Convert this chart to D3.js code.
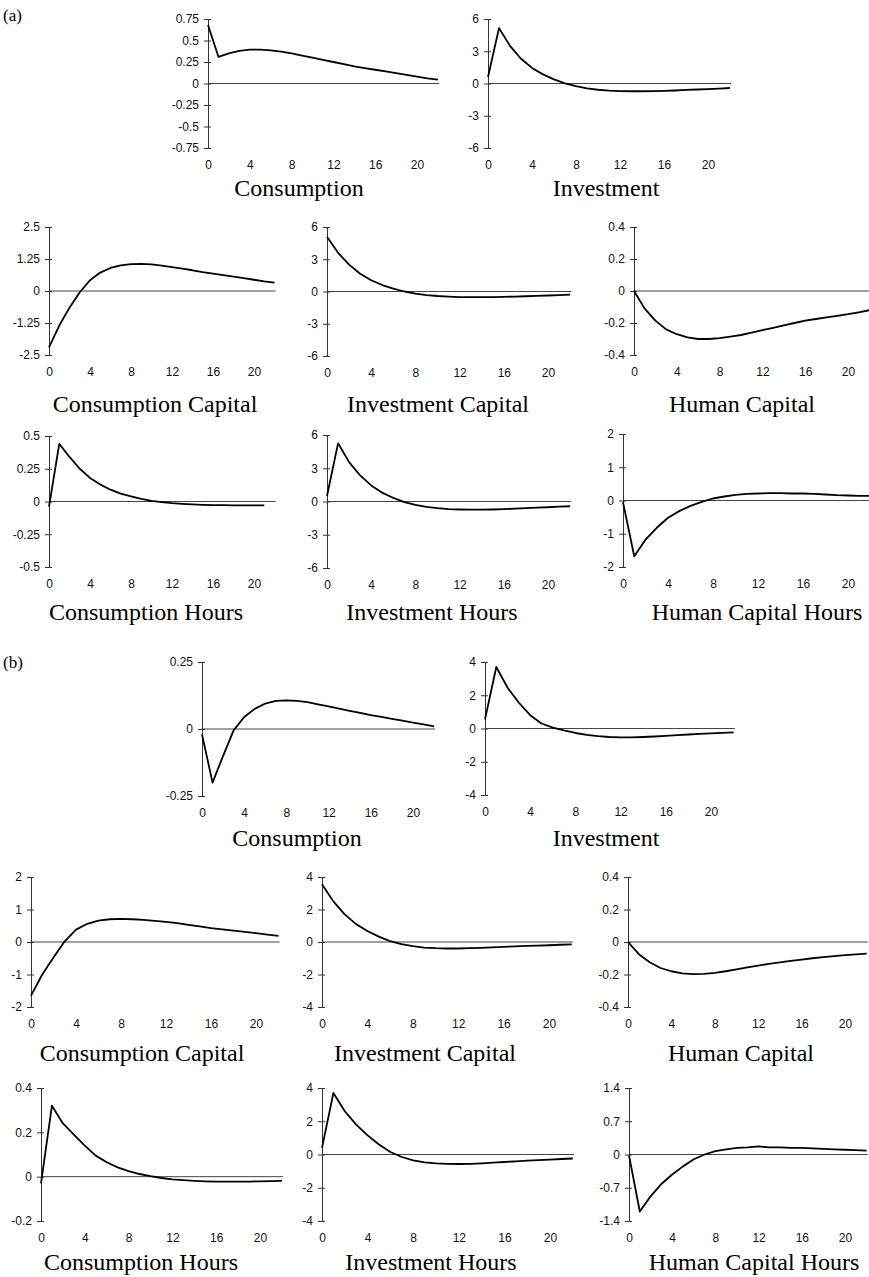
<!DOCTYPE html>
<html>
<head>
<meta charset="utf-8">
<script src="https://cdn.jsdelivr.net/npm/d3@7"></script>
<style>
  body { margin: 0; background: #fff; }
  svg { display: block; }
</style>
</head>
<body>
<div class="figure"></div>
<script>
// periods after the shock
const periods = [0,1,2,3,4,5,6,7,8,9,10,11,12,13,14,15,16,17,18,19,20,21,22];
const xTicks = [0,4,8,12,16,20];

// ---- panel (a) ----
const aConsumption = [0.68,0.31,0.35,0.38,0.395,0.395,0.385,0.37,0.35,0.325,0.30,0.275,0.25,0.225,0.20,0.18,0.16,0.14,0.12,0.10,0.08,0.06,0.045];
const aInvestment = [0.6,5.15,3.5,2.3,1.45,0.85,0.38,0.02,-0.25,-0.45,-0.58,-0.66,-0.7,-0.72,-0.72,-0.7,-0.68,-0.65,-0.6,-0.56,-0.52,-0.47,-0.42];
const aConsCapital = [-2.2,-1.35,-0.65,-0.05,0.42,0.72,0.9,1.0,1.05,1.06,1.04,0.99,0.93,0.87,0.81,0.74,0.68,0.62,0.56,0.5,0.44,0.38,0.33];
const aInvCapital = [5.1,3.6,2.5,1.65,1.05,0.6,0.27,0.0,-0.2,-0.33,-0.42,-0.48,-0.52,-0.53,-0.53,-0.52,-0.5,-0.47,-0.44,-0.41,-0.37,-0.34,-0.3];
const aHumCapital = [0,-0.11,-0.185,-0.24,-0.27,-0.29,-0.3,-0.3,-0.295,-0.285,-0.275,-0.26,-0.245,-0.23,-0.215,-0.2,-0.185,-0.175,-0.165,-0.155,-0.145,-0.133,-0.12];
const aConsHours = [-0.04,0.44,0.34,0.25,0.18,0.13,0.09,0.06,0.04,0.02,0.005,-0.005,-0.013,-0.018,-0.022,-0.025,-0.027,-0.028,-0.029,-0.03,-0.03,-0.03];
const aInvHours = [0.5,5.25,3.55,2.35,1.45,0.8,0.32,-0.05,-0.3,-0.48,-0.6,-0.68,-0.72,-0.74,-0.74,-0.72,-0.69,-0.65,-0.6,-0.56,-0.52,-0.47,-0.43];
const aHumHours = [-0.05,-1.68,-1.18,-0.82,-0.52,-0.32,-0.16,-0.04,0.06,0.12,0.17,0.2,0.21,0.22,0.22,0.21,0.21,0.2,0.18,0.16,0.15,0.14,0.14];

// ---- panel (b) ----
const bConsumption = [-0.02,-0.2,-0.1,-0.005,0.045,0.075,0.095,0.105,0.107,0.105,0.1,0.092,0.084,0.076,0.068,0.06,0.052,0.045,0.038,0.031,0.024,0.017,0.01];
const bInvestment = [0.55,3.7,2.45,1.55,0.8,0.3,0.05,-0.12,-0.27,-0.38,-0.46,-0.51,-0.53,-0.53,-0.51,-0.48,-0.44,-0.4,-0.36,-0.32,-0.29,-0.26,-0.23];
const bConsCapital = [-1.65,-1.0,-0.48,0.02,0.38,0.56,0.66,0.7,0.71,0.7,0.68,0.65,0.62,0.58,0.53,0.48,0.43,0.39,0.35,0.31,0.27,0.23,0.19];
const bInvCapital = [3.55,2.5,1.7,1.1,0.68,0.33,0.05,-0.13,-0.26,-0.34,-0.38,-0.4,-0.4,-0.38,-0.36,-0.33,-0.3,-0.27,-0.24,-0.22,-0.2,-0.17,-0.15];
const bHumCapital = [0,-0.075,-0.125,-0.16,-0.18,-0.193,-0.198,-0.196,-0.19,-0.18,-0.168,-0.156,-0.145,-0.135,-0.125,-0.116,-0.108,-0.1,-0.093,-0.087,-0.081,-0.076,-0.071];
const bConsHours = [-0.03,0.32,0.24,0.19,0.14,0.095,0.065,0.042,0.025,0.012,0.002,-0.006,-0.012,-0.016,-0.019,-0.021,-0.022,-0.022,-0.022,-0.022,-0.021,-0.02,-0.019];
const bInvHours = [0.4,3.7,2.6,1.8,1.15,0.6,0.15,-0.15,-0.35,-0.47,-0.53,-0.56,-0.57,-0.56,-0.53,-0.49,-0.45,-0.41,-0.37,-0.34,-0.31,-0.27,-0.24];
const bHumHours = [-0.02,-1.2,-0.88,-0.62,-0.42,-0.25,-0.1,0.0,0.07,0.11,0.14,0.15,0.17,0.15,0.15,0.14,0.14,0.13,0.12,0.11,0.1,0.09,0.08];

// y tick labels
const aConsTicks = [0.75,0.5,0.25,0,-0.25,-0.5,-0.75];
const aInvTicks = [6,3,0,-3,-6];
const aConsCapTicks = [2.5,1.25,0,-1.25,-2.5];
const aHumCapTicks = [0.4,0.2,0,-0.2,-0.4];
const aConsHoursTicks = [0.5,0.25,0,-0.25,-0.5];
const aHumHoursTicks = [2,1,0,-1,-2];
const bConsTicks = [0.25,0,-0.25];
const bInvTicks = [4,2,0,-2,-4];
const bConsCapTicks = [2,1,0,-1,-2];
const bHumCapTicks = [0.4,0.2,0,-0.2,-0.4];
const bConsHoursTicks = [0.4,0.2,0,-0.2];
const bHumHoursTicks = [1.4,0.7,0,-0.7,-1.4];

const width = 869;
const height = 1277;

const svg = d3.select('.figure')
  .append('svg')
  .attr('width', width)
  .attr('height', height);

// layout of each small chart (x0 = pixel of period 0, x20 = pixel of period 20)
const panels = [
  {title:'Consumption', values:aConsumption, ticks:aConsTicks, x0:208, x20:417, top:19, bottom:148, titleX:299, titleY:196},
  {title:'Investment', values:aInvestment, ticks:aInvTicks, x0:488, x20:708, top:19, bottom:148, titleX:606, titleY:196},
  {title:'Consumption Capital', values:aConsCapital, ticks:aConsCapTicks, x0:49, x20:254, top:227, bottom:355, titleX:155, titleY:412},
  {title:'Investment Capital', values:aInvCapital, ticks:aInvTicks, x0:327, x20:548, top:227, bottom:356, titleX:438, titleY:412},
  {title:'Human Capital', values:aHumCapital, ticks:aHumCapTicks, x0:634, x20:848, top:227, bottom:355, titleX:742, titleY:412},
  {title:'Consumption Hours', values:aConsHours, ticks:aConsHoursTicks, x0:49, x20:254, top:436, bottom:567, titleX:146, titleY:620},
  {title:'Investment Hours', values:aInvHours, ticks:aInvTicks, x0:327, x20:548, top:435, bottom:568, titleX:432, titleY:620},
  {title:'Human Capital Hours', values:aHumHours, ticks:aHumHoursTicks, x0:623, x20:848, top:434, bottom:567, titleX:757, titleY:620},

  {title:'Consumption', values:bConsumption, ticks:bConsTicks, x0:202, x20:413, top:662, bottom:796, titleX:297, titleY:846},
  {title:'Investment', values:bInvestment, ticks:bInvTicks, x0:485, x20:711, top:662, bottom:795, titleX:606, titleY:846},
  {title:'Consumption Capital', values:bConsCapital, ticks:bConsCapTicks, x0:31, x20:256, top:877, bottom:1007, titleX:142, titleY:1061},
  {title:'Investment Capital', values:bInvCapital, ticks:bInvTicks, x0:322, x20:549, top:877, bottom:1007, titleX:425, titleY:1061},
  {title:'Human Capital', values:bHumCapital, ticks:bHumCapTicks, x0:628, x20:845, top:877, bottom:1007, titleX:741, titleY:1061},
  {title:'Consumption Hours', values:bConsHours, ticks:bConsHoursTicks, x0:41, x20:260, top:1088, bottom:1221, titleX:141, titleY:1270},
  {title:'Investment Hours', values:bInvHours, ticks:bInvTicks, x0:322, x20:550, top:1088, bottom:1221, titleX:431, titleY:1270},
  {title:'Human Capital Hours', values:bHumHours, ticks:bHumHoursTicks, x0:629, x20:845, top:1088, bottom:1221, titleX:754, titleY:1270}
];

panels.forEach(p => {
  const x = d3.scaleLinear().domain([0, 20]).range([p.x0, p.x20]);
  const y = d3.scaleLinear().domain(d3.extent(p.ticks)).range([p.bottom, p.top]);
  const g = svg.append('g');

  // zero line
  g.append('line')
    .attr('x1', x(0)).attr('x2', x(22.1))
    .attr('y1', y(0)).attr('y2', y(0))
    .attr('stroke', '#444')
    .attr('stroke-width', 1);

  // y axis with ticks crossing the axis line
  const ay = g.append('g')
    .attr('transform', `translate(${x(0)},0)`)
    .call(d3.axisLeft(y).tickValues(p.ticks).tickSize(4).tickSizeOuter(0).tickPadding(5).tickFormat(d => String(d)));
  ay.attr('font-family', 'Liberation Sans, Arial, sans-serif').attr('font-size', 12);
  ay.select('.domain').attr('stroke', '#333');
  ay.selectAll('.tick line').attr('x1', 3).attr('stroke', '#333');
  ay.selectAll('.tick text').attr('fill', '#111');

  // period labels below
  const ax = g.append('g')
    .attr('transform', `translate(0,${p.bottom + 12})`)
    .call(d3.axisBottom(x).tickValues(xTicks).tickSize(0).tickPadding(0));
  ax.attr('font-family', 'Liberation Sans, Arial, sans-serif').attr('font-size', 12);
  ax.select('.domain').remove();
  ax.selectAll('.tick text').attr('fill', '#111');

  // response path
  g.append('path')
    .datum(p.values)
    .attr('fill', 'none')
    .attr('stroke', '#000')
    .attr('stroke-width', 1.8)
    .attr('stroke-linejoin', 'round')
    .attr('d', d3.line().x((d, i) => x(periods[i])).y(d => y(d)));

  // title under the chart
  g.append('text')
    .attr('x', p.titleX)
    .attr('y', p.titleY)
    .attr('text-anchor', 'middle')
    .attr('font-family', 'Liberation Serif, Times New Roman, serif')
    .attr('font-size', 24)
    .attr('fill', '#000')
    .text(p.title);
});

// panel letters
svg.append('text').attr('x', 3).attr('y', 21)
  .attr('font-family', 'Liberation Serif, serif').attr('font-size', 17)
  .text('(a)');
svg.append('text').attr('x', 3).attr('y', 668)
  .attr('font-family', 'Liberation Serif, serif').attr('font-size', 17)
  .text('(b)');
</script>
</body>
</html>
